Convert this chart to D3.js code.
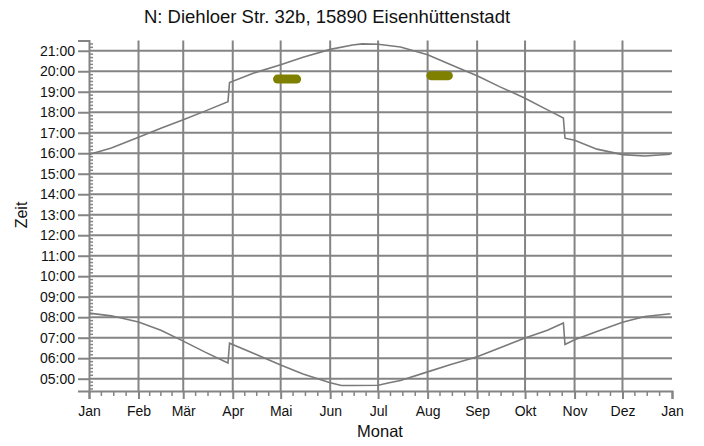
<!DOCTYPE html>
<html>
<head>
<meta charset="utf-8">
<script src="https://cdn.jsdelivr.net/npm/d3@7"></script>
<style>
  body { margin: 0; background: #fff; }
  text { font-family: "Liberation Sans", Arial, sans-serif; fill: #111; }
</style>
</head>
<body>
<div id="chart"></div>
<script>
// month tick labels (German)
var monthLabels = ["Jan", "Feb", "Mär", "Apr", "Mai", "Jun", "Jul", "Aug", "Sep", "Okt", "Nov", "Dez", "Jan"];
var hourTicks = [5, 6, 7, 8, 9, 10, 11, 12, 13, 14, 15, 16, 17, 18, 19, 20, 21];

// sunset (upper curve)
var sunsetDates = ["01-01", "01-15", "02-01", "02-15", "03-01", "03-15", "03-29",
  "03-30", "04-15", "05-01", "05-15", "06-01", "06-15", "06-21", "07-01", "07-15",
  "08-01", "08-20", "09-01", "09-15", "10-01", "10-15", "10-25", "10-26", "11-01",
  "11-15", "12-01", "12-15", "12-31"];
var sunsetTimes = ["15:56", "16:15", "16:47", "17:13", "17:38", "18:04", "18:31",
  "19:27", "19:56", "20:19", "20:41", "21:04", "21:17", "21:20", "21:19", "21:11",
  "20:48", "20:10", "19:47", "19:15", "18:41", "18:07", "17:43", "16:44", "16:38",
  "16:12", "15:56", "15:52", "15:57"];

// sunrise (lower curve)
var sunriseDates = ["01-01", "01-15", "02-01", "02-15", "03-01", "03-15", "03-29",
  "03-30", "04-15", "05-01", "05-15", "06-01", "06-08", "06-15", "07-01", "07-08",
  "07-15", "08-01", "08-15", "09-01", "09-15", "10-01", "10-15", "10-25", "10-26",
  "11-01", "11-15", "12-01", "12-15", "12-31"];
var sunriseTimes = ["08:12", "08:04", "07:46", "07:22", "06:50", "06:17", "05:46",
  "06:44", "06:12", "05:40", "05:14", "04:48", "04:40", "04:40", "04:41", "04:48",
  "04:55", "05:20", "05:41", "06:04", "06:30", "06:59", "07:22", "07:43", "06:40",
  "06:54", "07:18", "07:45", "08:02", "08:10"];

// olive markers
var markerFrom = ["04-29", "08-03"];
var markerTo = ["05-11", "08-14"];
var markerTimes = ["19:37", "19:47"];

var year = 2025;
var parseDay = d3.timeParse("%Y-%m-%d");
function day(s) { return parseDay(year + "-" + s); }
function hours(s) { var p = s.split(":"); return +p[0] + (+p[1]) / 60; }

var width = 704, height = 446;
var margin = { top: 40.5, right: 32, bottom: 55, left: 89 };

var x = d3.scaleTime()
    .domain([new Date(year, 0, 1), new Date(year + 1, 0, 1)])
    .range([margin.left, width - margin.right]);

var y = d3.scaleLinear()
    .domain([4.4, 21.5])
    .range([height - margin.bottom, margin.top]);

var svg = d3.select("#chart").append("svg")
    .attr("width", width)
    .attr("height", height);

var monthDates = d3.range(13).map(function(m) { return new Date(year, m, 1); });
var gridColor = "#848484";

// horizontal grid
svg.append("g").selectAll("line")
    .data(hourTicks)
    .enter().append("line")
    .attr("x1", x.range()[0]).attr("x2", x.range()[1])
    .attr("y1", function(d) { return y(d); })
    .attr("y2", function(d) { return y(d); })
    .attr("stroke", gridColor).attr("stroke-width", 2);

// vertical grid (also serves as major x ticks)
svg.append("g").selectAll("line")
    .data(monthDates.slice(1, 12))
    .enter().append("line")
    .attr("x1", function(d) { return x(d); })
    .attr("x2", function(d) { return x(d); })
    .attr("y1", y.range()[1]).attr("y2", y.range()[0])
    .attr("stroke", gridColor).attr("stroke-width", 2);

// x axis
var minorX = [];
monthDates.slice(0, 12).forEach(function(d, i) {
  var a = +d, b = +monthDates[i + 1];
  [1, 2, 3].forEach(function(k) { minorX.push(new Date(a + (b - a) * k / 4)); });
});

var xAxis = d3.axisBottom(x)
    .tickValues(monthDates)
    .tickFormat(function(d, i) { return monthLabels[i]; })
    .tickSize(8)
    .tickPadding(7);

var gx = svg.append("g")
    .attr("class", "x axis")
    .attr("transform", "translate(0," + y.range()[0] + ")")
    .call(xAxis);
gx.select(".domain").attr("stroke", gridColor).attr("stroke-width", 2);
gx.selectAll(".tick line").attr("stroke", gridColor).attr("stroke-width", 2);
gx.selectAll(".tick text").style("font-size", "14px").attr("fill", "#111");

svg.append("g").selectAll("line")
    .data(minorX)
    .enter().append("line")
    .attr("x1", function(d) { return x(d); })
    .attr("x2", function(d) { return x(d); })
    .attr("y1", y.range()[0]).attr("y2", y.range()[0] + 5)
    .attr("stroke", gridColor).attr("stroke-width", 1.5);

// y axis
var yAxis = d3.axisLeft(y)
    .tickValues(hourTicks)
    .tickFormat(function(d) { return d3.format("02d")(d) + ":00"; })
    .tickSize(11)
    .tickPadding(3);

var gy = svg.append("g")
    .attr("class", "y axis")
    .attr("transform", "translate(" + x.range()[0] + ",0)")
    .call(yAxis);
gy.select(".domain").attr("stroke", gridColor).attr("stroke-width", 2);
gy.selectAll(".tick line").attr("stroke", gridColor).attr("stroke-width", 2);
gy.selectAll(".tick text").style("font-size", "14px").attr("fill", "#111");

var minorY = d3.range(4 * 60 + 30, 21 * 60 + 30, 10)
    .filter(function(m) { return m % 60 !== 0; })
    .map(function(m) { return m / 60; });

svg.append("g").selectAll("line")
    .data(minorY)
    .enter().append("line")
    .attr("x1", x.range()[0]).attr("x2", x.range()[0] + 4)
    .attr("y1", function(d) { return y(d); })
    .attr("y2", function(d) { return y(d); })
    .attr("stroke", gridColor).attr("stroke-width", 1.5);

// curves
var line = d3.line()
    .x(function(d) { return x(d.date); })
    .y(function(d) { return y(d.h); });

function series(dates, times) {
  return dates.map(function(d, i) { return { date: day(d), h: hours(times[i]) }; });
}

svg.append("path")
    .datum(series(sunsetDates, sunsetTimes))
    .attr("d", line)
    .attr("fill", "none").attr("stroke", "#7a7a7a").attr("stroke-width", 1.6);

svg.append("path")
    .datum(series(sunriseDates, sunriseTimes))
    .attr("d", line)
    .attr("fill", "none").attr("stroke", "#7a7a7a").attr("stroke-width", 1.6);

// olive markers
svg.append("g").selectAll("line")
    .data(markerTimes)
    .enter().append("line")
    .attr("x1", function(d, i) { return x(day(markerFrom[i])); })
    .attr("x2", function(d, i) { return x(day(markerTo[i])); })
    .attr("y1", function(d) { return y(hours(d)); })
    .attr("y2", function(d) { return y(hours(d)); })
    .attr("stroke", "#808000").attr("stroke-width", 9)
    .attr("stroke-linecap", "round");

// title and axis titles
svg.append("text")
    .attr("x", 327).attr("y", 23)
    .attr("text-anchor", "middle")
    .style("font-size", "18.5px")
    .text("N: Diehloer Str. 32b, 15890 Eisenhüttenstadt");

svg.append("text")
    .attr("x", 380).attr("y", 437)
    .attr("text-anchor", "middle")
    .style("font-size", "16.5px")
    .text("Monat");

svg.append("text")
    .attr("transform", "translate(27,215) rotate(-90)")
    .attr("text-anchor", "middle")
    .style("font-size", "16px")
    .text("Zeit");
</script>
</body>
</html>
